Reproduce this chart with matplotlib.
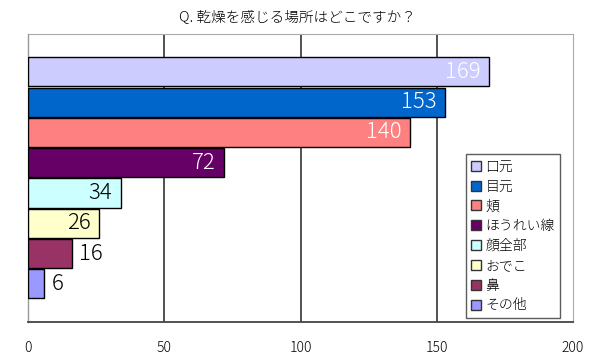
import matplotlib
matplotlib.use("Agg")
import matplotlib.pyplot as plt
from matplotlib.lines import Line2D

plt.rcParams['font.family'] = ['Noto Sans CJK JP', 'DejaVu Sans']

categories = ["口元", "目元", "頬", "ほうれい線", "顔全部", "おでこ", "鼻", "その他"]
values = [169, 153, 140, 72, 34, 26, 16, 6]
colors = ["#CCCCFF", "#0066CC", "#FF8080", "#660066", "#CCFFFF", "#FFFFCC", "#993366", "#9999FF"]
label_colors = ["white", "white", "white", "white", "black", "black", "black", "black"]
inside = [True, True, True, True, True, True, False, False]
xticks = [0, 50, 100, 150, 200]
title = "Q. 乾燥を感じる場所はどこですか？"

fig = plt.figure(figsize=(6.0, 3.59), dpi=100)
ax = fig.add_axes([28/600, 1-322/359, (573-28)/600, (322-34)/359])

ypos = list(range(len(categories)))
ax.barh(ypos, values, height=0.96, color=colors, edgecolor="black", linewidth=1.0, zorder=3)

for y, v, c, ins in zip(ypos, values, label_colors, inside):
    if ins:
        ax.annotate(str(v), xy=(v, y), xytext=(-6, 0), textcoords="offset points",
                    ha="right", va="center", fontsize=16, color=c, zorder=4,
                    fontweight="light")
    else:
        ax.annotate(str(v), xy=(v, y), xytext=(5, 0), textcoords="offset points",
                    ha="left", va="center", fontsize=16, color=c, zorder=4,
                    fontweight="light")

ax.set_xlim(0, 200)
ax.set_ylim(len(categories) - 1 + 1.26, -1.25)
ax.set_xticks(xticks)
ax.set_xticklabels([str(t) for t in xticks], fontsize=10, fontweight="light")
ax.set_yticks([])
ax.tick_params(axis="x", length=0, pad=14)
for xv in xticks[1:-1]:
    ax.axvline(xv, color="#333333", linewidth=1.2, zorder=1)

ax.spines["left"].set_color("#999999")
ax.spines["left"].set_linewidth(1.0)
ax.spines["bottom"].set_color("#444444")
ax.spines["bottom"].set_linewidth(1.3)
ax.spines["top"].set_color("#AAAAAA")
ax.spines["right"].set_color("#AAAAAA")

handles = [Line2D([0], [0], marker="s", linestyle="none", markersize=7,
                  markerfacecolor=col, markeredgecolor="#333333", markeredgewidth=1.0)
           for col in colors]
leg = ax.legend(handles, categories, loc="upper left",
                bbox_to_anchor=((466-28)/545, 1-(154-34)/288),
                frameon=True, fancybox=False, handlelength=0.7,
                handletextpad=0.3, labelspacing=0.42, borderpad=0.4,
                borderaxespad=0, edgecolor="#333333",
                prop={"size": 10, "weight": "light"})
leg.get_frame().set_linewidth(1.0)

fig.text(297/600, 1-17.5/359, title, ha="center", va="center", fontsize=10.5,
         fontweight="light")

fig.savefig("out.png", dpi=100)
